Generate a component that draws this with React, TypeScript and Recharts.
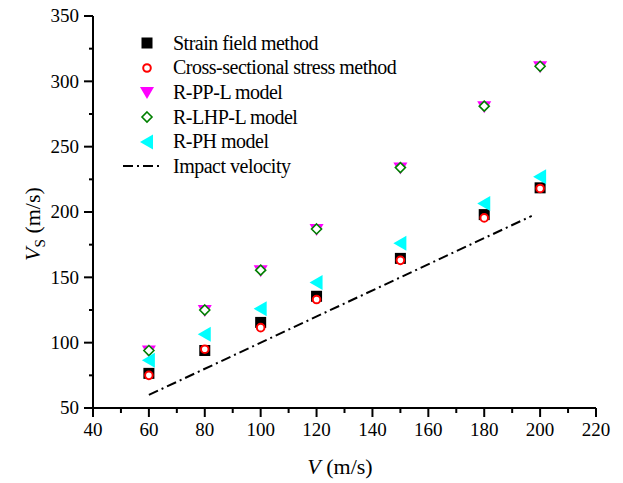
import { ComposedChart, Scatter, XAxis, YAxis, Legend, Label } from "recharts"

const FONT = "'Liberation Serif', 'Times New Roman', serif"

const velocity = [60, 80, 100, 120, 150, 180, 200]
const strainField = [76.5, 94, 115.5, 135.5, 164.5, 198, 218.5]
const crossSection = [75, 95, 111.5, 133, 163, 195.5, 218]
const rPPL = [94, 125, 155.5, 187, 234, 281, 311.5]
const rLHPL = [94, 125, 155.5, 187, 234, 281, 311.5]
const rPH = [86.5, 106.5, 126, 146, 176, 206.5, 227]
const impactX = [60, 197]
const impactY = [60, 197]

const xTicks = [40, 50, 60, 70, 80, 90, 100, 110, 120, 130, 140, 150, 160, 170, 180, 190, 200, 210, 220]
const yTicks = [50, 75, 100, 125, 150, 175, 200, 225, 250, 275, 300, 325, 350]

const toPoints = (xs: number[], ys: number[]) => xs.map((x, i) => ({ x, y: ys[i] }))

const strainData = toPoints(velocity, strainField)
const crossData = toPoints(velocity, crossSection)
const ppData = toPoints(velocity, rPPL)
const lhpData = toPoints(velocity, rLHPL)
const phData = toPoints(velocity, rPH)
const impactData = toPoints(impactX, impactY)

const Square = ({ cx, cy }: any) => <rect x={cx - 5.5} y={cy - 5.5} width={11} height={11} fill="#000" />
const Circle = ({ cx, cy }: any) => <circle cx={cx} cy={cy} r={3.8} fill="#fff" stroke="#ff0000" strokeWidth={2} />
const DownTri = ({ cx, cy }: any) => (
  <polygon points={`${cx - 7},${cy - 5} ${cx + 7},${cy - 5} ${cx},${cy + 7}`} fill="#ff00ff" />
)
const Diamond = ({ cx, cy }: any) => (
  <polygon points={`${cx},${cy - 5} ${cx + 5},${cy} ${cx},${cy + 5} ${cx - 5},${cy}`} fill="#fff" stroke="#008000" strokeWidth={1.6} />
)
const LeftTri = ({ cx, cy }: any) => (
  <polygon points={`${cx - 7},${cy} ${cx + 6},${cy - 7.5} ${cx + 6},${cy + 7.5}`} fill="#00ffff" />
)
const Nothing = () => <g />

// major ticks get a label, minor ticks are shorter
const BottomTick = ({ x, y, payload }: any) => {
  const major = payload.value % 20 === 0
  return (
    <g>
      <line x1={x} y1={y} x2={x} y2={y + (major ? 9 : 5)} stroke="#000" strokeWidth={2} />
      {major && (
        <text x={x} y={y + 28} textAnchor="middle" fontSize={19} fontFamily={FONT} fill="#000">
          {payload.value}
        </text>
      )}
    </g>
  )
}

const LeftTick = ({ x, y, payload }: any) => {
  const major = payload.value % 50 === 0
  return (
    <g>
      <line x1={x} y1={y} x2={x - (major ? 9 : 4)} y2={y} stroke="#000" strokeWidth={2} />
      {major && (
        <text x={x - 14} y={y + 6.3} textAnchor="end" fontSize={19} fontFamily={FONT} fill="#000">
          {payload.value}
        </text>
      )}
    </g>
  )
}

const XTitle = () => (
  <text x={340} y={474} textAnchor="middle" fontSize={22} fontFamily={FONT} fill="#000">
    <tspan fontStyle="italic">V</tspan>
    <tspan> (m/s)</tspan>
  </text>
)

const YTitle = () => (
  <text x={-224} y={40} transform="rotate(-90)" textAnchor="middle" fontSize={22} fontFamily={FONT} fill="#000">
    <tspan fontStyle="italic">V</tspan>
    <tspan fontSize={15} dy={5}>S</tspan>
    <tspan dy={-5}> (m/s)</tspan>
  </text>
)

const legendItems = [
  { name: "Strain field method", icon: "square" },
  { name: "Cross-sectional stress method", icon: "circle" },
  { name: "R-PP-L model", icon: "down" },
  { name: "R-LHP-L model", icon: "diamond" },
  { name: "R-PH model", icon: "left" },
  { name: "Impact velocity", icon: "line" },
]

const LegendIcon = ({ icon }: { icon: string }) => {
  const cx = 37
  const cy = 12
  return (
    <svg width={52} height={24} style={{ display: "block", overflow: "visible" }}>
      {icon === "square" && <Square cx={cx} cy={cy} />}
      {icon === "circle" && <Circle cx={cx} cy={cy} />}
      {icon === "down" && <DownTri cx={cx} cy={cy} />}
      {icon === "diamond" && <Diamond cx={cx} cy={cy} />}
      {icon === "left" && <LeftTri cx={cx} cy={cy} />}
      {icon === "line" && (
        <line x1={13} y1={cy} x2={50} y2={cy} stroke="#000" strokeWidth={2} strokeDasharray="10 4 2 4" />
      )}
    </svg>
  )
}

const LegendBox = () => (
  <div style={{ fontFamily: FONT, fontSize: 20, color: "#000" }}>
    {legendItems.map((item) => (
      <div key={item.name} style={{ display: "flex", alignItems: "center", height: 24.6 }}>
        <LegendIcon icon={item.icon} />
        <span style={{ marginLeft: 11, whiteSpace: "nowrap", letterSpacing: -0.5 }}>{item.name}</span>
      </div>
    ))}
  </div>
)

export default function App() {
  return (
    <div style={{ position: "absolute", left: 0, top: 0, width: 623, height: 483, background: "#fff" }}>
      <ComposedChart width={623} height={483} margin={{ top: 16, right: 27, left: 0, bottom: 0 }}>
        <XAxis
          xAxisId="b"
          type="number"
          dataKey="x"
          domain={[40, 220]}
          ticks={xTicks}
          interval={0}
          height={75}
          tickSize={0}
          tickMargin={0}
          tickLine={false}
          axisLine={{ stroke: "#000", strokeWidth: 2 }}
          tick={<BottomTick />}
          allowDataOverflow
        >
          <Label content={<XTitle />} />
        </XAxis>
        <XAxis
          xAxisId="t"
          orientation="top"
          type="number"
          domain={[40, 220]}
          ticks={xTicks}
          interval={0}
          height={0}
          mirror
          tickSize={3}
          tickFormatter={() => ""}
          tickLine={{ stroke: "#000", strokeWidth: 1.5 }}
          axisLine={{ stroke: "#000", strokeWidth: 2 }}
          allowDataOverflow
        />
        <YAxis
          yAxisId="l"
          type="number"
          domain={[50, 350]}
          ticks={yTicks}
          interval={0}
          width={93}
          tickSize={0}
          tickMargin={0}
          tickLine={false}
          axisLine={{ stroke: "#000", strokeWidth: 2 }}
          tick={<LeftTick />}
          allowDataOverflow
        >
          <Label content={<YTitle />} />
        </YAxis>
        <YAxis
          yAxisId="r"
          orientation="right"
          type="number"
          domain={[50, 350]}
          ticks={yTicks}
          interval={0}
          width={0}
          mirror
          tickSize={3}
          tickFormatter={() => ""}
          tickLine={{ stroke: "#000", strokeWidth: 1.5 }}
          axisLine={{ stroke: "#000", strokeWidth: 2 }}
          allowDataOverflow
        />
        <Legend
          layout="horizontal"
          verticalAlign="middle"
          content={<LegendBox />}
          wrapperStyle={{ position: "absolute", left: 110, top: 31, width: "auto" }}
        />
        <Scatter
          name="Impact velocity"
          data={impactData}
          xAxisId="b"
          yAxisId="l"
          dataKey="y"
          line={{ stroke: "#000", strokeWidth: 2, strokeDasharray: "10 4 2 4" }}
          lineType="joint"
          shape={<Nothing />}
          isAnimationActive={false}
        />
        <Scatter name="Strain field method" data={strainData} xAxisId="b" yAxisId="l" dataKey="y" shape={<Square />} isAnimationActive={false} />
        <Scatter name="Cross-sectional stress method" data={crossData} xAxisId="b" yAxisId="l" dataKey="y" shape={<Circle />} isAnimationActive={false} />
        <Scatter name="R-PP-L model" data={ppData} xAxisId="b" yAxisId="l" dataKey="y" shape={<DownTri />} isAnimationActive={false} />
        <Scatter name="R-LHP-L model" data={lhpData} xAxisId="b" yAxisId="l" dataKey="y" shape={<Diamond />} isAnimationActive={false} />
        <Scatter name="R-PH model" data={phData} xAxisId="b" yAxisId="l" dataKey="y" shape={<LeftTri />} isAnimationActive={false} />
      </ComposedChart>
    </div>
  )
}
